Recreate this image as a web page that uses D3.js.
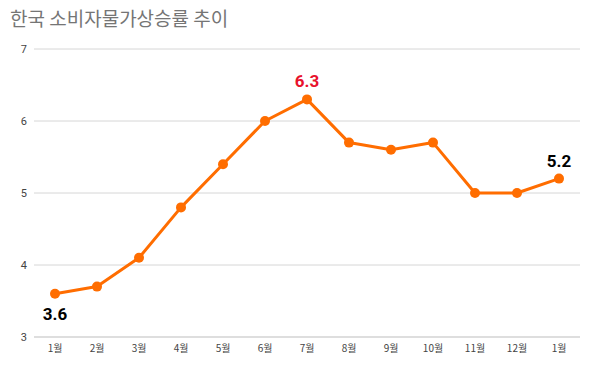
<!DOCTYPE html>
<html>
<head>
<meta charset="utf-8">
<script src="https://cdn.jsdelivr.net/npm/d3@7"></script>
<style>
  body { margin: 0; background: #fff; }
  svg { display: block; font-family: Roboto, "Noto Sans CJK KR", sans-serif; }
</style>
</head>
<body>
<div id="chart"></div>
<script>
const months = ["1월", "2월", "3월", "4월", "5월", "6월", "7월", "8월", "9월", "10월", "11월", "12월", "1월 "];
const rates = [3.6, 3.7, 4.1, 4.8, 5.4, 6.0, 6.3, 5.7, 5.6, 5.7, 5.0, 5.0, 5.2];
const yTicks = [3, 4, 5, 6, 7];
const labelled = [
    { i: 0, pos: "below", color: "#000" },
    { i: 6, pos: "above", color: "#e8122d" },
    { i: 12, pos: "above", color: "#000" }
];

var width = 600, height = 375;
var margin = { top: 49, right: 20, bottom: 38, left: 34 };

var svg = d3.select("#chart")
    .append("svg")
    .attr("width", width)
    .attr("height", height);

// title
svg.append("text")
    .attr("x", 10)
    .attr("y", 26)
    .style("font-size", "19px")
    .style("font-family", "'Noto Sans CJK KR', sans-serif")
    .attr("fill", "#757575")
    .text("한국 소비자물가상승률 추이");

var x = d3.scaleBand()
    .domain(months)
    .range([margin.left, width - margin.right]);

var y = d3.scaleLinear()
    .domain([3, 7])
    .range([height - margin.bottom, margin.top]);

// gridlines
svg.append("g")
    .selectAll("line")
    .data(yTicks)
    .join("line")
    .attr("x1", margin.left)
    .attr("x2", width - margin.right)
    .attr("y1", d => y(d))
    .attr("y2", d => y(d))
    .attr("stroke", d => d === 3 ? "#bdbdbd" : "#d6d6d6")
    .attr("stroke-width", 1);

// y labels
svg.append("g")
    .selectAll("text")
    .data(yTicks)
    .join("text")
    .attr("x", 27)
    .attr("y", d => y(d))
    .attr("dy", "0.35em")
    .attr("text-anchor", "end")
    .style("font-size", "11px")
    .attr("fill", "#444")
    .text(d => d);

// x labels
svg.append("g")
    .selectAll("text")
    .data(months)
    .join("text")
    .attr("x", d => x(d) + x.bandwidth() / 2)
    .attr("y", height - margin.bottom + 15)
    .attr("text-anchor", "middle")
    .style("font-size", "10px")
    .style("font-family", "'Noto Sans CJK KR', sans-serif")
    .attr("fill", "#444")
    .text(d => d.trim());

var pts = rates.map((v, i) => ({ m: months[i], v: v }));

// line
svg.append("path")
    .datum(pts)
    .attr("fill", "none")
    .attr("stroke", "#ff6d00")
    .attr("stroke-width", 3)
    .attr("stroke-linejoin", "round")
    .attr("d", d3.line()
        .x(d => x(d.m) + x.bandwidth() / 2)
        .y(d => y(d.v))
    );

// points
svg.append("g")
    .selectAll("circle")
    .data(pts)
    .join("circle")
    .attr("cx", d => x(d.m) + x.bandwidth() / 2)
    .attr("cy", d => y(d.v))
    .attr("r", 5)
    .attr("fill", "#ff6d00");

// value labels
svg.append("g")
    .selectAll("text")
    .data(labelled)
    .join("text")
    .attr("x", d => x(months[d.i]) + x.bandwidth() / 2)
    .attr("y", d => y(rates[d.i]) + (d.pos === "above" ? -12 : 26))
    .attr("text-anchor", "middle")
    .style("font-size", "17px")
    .style("font-weight", "bold")
    .attr("fill", d => d.color)
    .text(d => rates[d.i].toFixed(1));
</script>
</body>
</html>
